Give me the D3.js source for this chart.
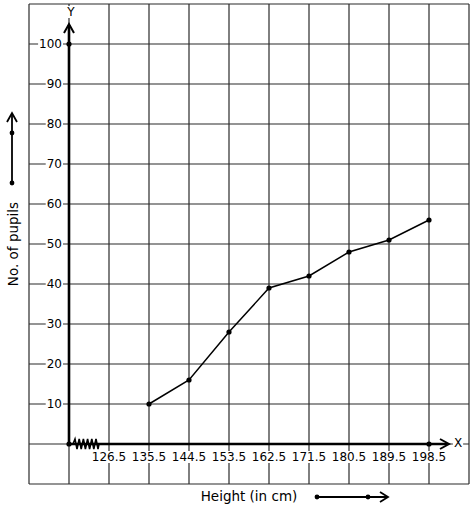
<!DOCTYPE html>
<html>
<head>
<meta charset="utf-8">
<script src="https://cdn.jsdelivr.net/npm/d3@7"></script>
<style>
body{margin:0;background:#fff;}
text{font-family:"DejaVu Sans",sans-serif;font-size:12px;fill:#000;}
text.title{font-size:13.5px;}
</style>
</head>
<body>
<svg id="chart" width="474" height="510"></svg>
<script>
const heights = [135.5, 144.5, 153.5, 162.5, 171.5, 180.5, 189.5, 198.5];
const pupils = [10, 16, 28, 39, 42, 48, 51, 56];
const xTickLabels = ["126.5", "135.5", "144.5", "153.5", "162.5", "171.5", "180.5", "189.5", "198.5"];
const yTickValues = [10, 20, 30, 40, 50, 60, 70, 80, 90, 100];
const xGridValues = d3.range(108.5, 208, 9);
const yGridValues = d3.range(-10, 111, 10);

const svg = d3.select("#chart");
const x = d3.scaleLinear().domain([117.5, 198.5]).range([69, 429]);
const y = d3.scaleLinear().domain([0, 100]).range([444, 44]);

const gridColor = "#2a2a2a";
// grid
svg.append("g").selectAll("line").data(xGridValues).join("line")
  .attr("x1", d => x(d)).attr("x2", d => x(d))
  .attr("y1", y(110)).attr("y2", y(-10))
  .attr("stroke", gridColor).attr("stroke-width", 1.2);
svg.append("g").selectAll("line").data(yGridValues).join("line")
  .attr("x1", x(108.5)).attr("x2", x(207.5))
  .attr("y1", d => y(d)).attr("y2", d => y(d))
  .attr("stroke", gridColor).attr("stroke-width", 1.2);

function labelWithBg(g, txt, px, py, anchor, cls) {
  const t = g.append("text").attr("x", px).attr("y", py)
    .attr("text-anchor", anchor).attr("dominant-baseline", "central").text(txt);
  if (cls) t.attr("class", cls);
  const b = t.node().getBBox();
  g.insert("rect", () => t.node())
    .attr("x", b.x - 1).attr("y", b.y + 1).attr("width", b.width + 2).attr("height", b.height - 2)
    .attr("fill", "#fff");
}

// y tick labels
const yl = svg.append("g");
yTickValues.forEach(v => labelWithBg(yl, String(v), 62, y(v), "end"));

// x tick labels
const xl = svg.append("g");
xTickLabels.forEach(s => labelWithBg(xl, s, x(+s), 457, "middle"));

// axes
const axisW = 2.6;
svg.append("line").attr("x1", x(117.5)).attr("x2", 447).attr("y1", y(0)).attr("y2", y(0))
  .attr("stroke", "#000").attr("stroke-width", axisW);
svg.append("line").attr("x1", x(117.5)).attr("x2", x(117.5)).attr("y1", y(0)).attr("y2", 25)
  .attr("stroke", "#000").attr("stroke-width", axisW);
// arrowheads
svg.append("path").attr("d", "M64,33 L69,24 L74,33").attr("fill", "none").attr("stroke", "#000").attr("stroke-width", 2);
svg.append("path").attr("d", "M440,439 L449,444 L440,449").attr("fill", "none").attr("stroke", "#000").attr("stroke-width", 2);
labelWithBg(svg.append("g"), "Y", 71, 12, "middle");
labelWithBg(svg.append("g"), "X", 458, 443, "middle");

// zigzag (axis break)
let zz = "M73,444";
for (let i = 0; i < 6; i++) {
  const bx = 74 + i * 4.2;
  zz += ` L${bx + 1},439 L${bx + 3},449`;
}
zz += " L99,444";
svg.append("path").attr("d", zz).attr("fill", "none").attr("stroke", "#000").attr("stroke-width", 1.6);

// data line
const line = d3.line().x((d, i) => x(heights[i])).y(d => y(d));
svg.append("path").datum(pupils).attr("d", line).attr("fill", "none").attr("stroke", "#000").attr("stroke-width", 1.5);
svg.append("g").selectAll("circle").data(pupils).join("circle")
  .attr("cx", (d, i) => x(heights[i])).attr("cy", d => y(d)).attr("r", 2.6).attr("fill", "#000");

// axis dots
[[117.5, 0], [117.5, 100], [198.5, 0]].forEach(([a, b]) =>
  svg.append("circle").attr("cx", x(a)).attr("cy", y(b)).attr("r", 2.6).attr("fill", "#000"));

// axis titles
svg.append("text").attr("class", "title").attr("x", 249).attr("y", 496).attr("text-anchor", "middle").attr("dominant-baseline", "central").text("Height (in cm)");
svg.append("text").attr("class", "title").attr("transform", "translate(13,244) rotate(-90)").attr("text-anchor", "middle").attr("dominant-baseline", "central").text("No. of pupils");

// direction arrows
svg.append("line").attr("x1", 317).attr("x2", 387).attr("y1", 497).attr("y2", 497).attr("stroke", "#000").attr("stroke-width", 1.8);
svg.append("path").attr("d", "M380,492 L388,497 L380,502").attr("fill", "none").attr("stroke", "#000").attr("stroke-width", 1.8);
[317, 368].forEach(cx => svg.append("circle").attr("cx", cx).attr("cy", 497).attr("r", 2.4).attr("fill", "#000"));

svg.append("line").attr("x1", 12).attr("x2", 12).attr("y1", 183).attr("y2", 114).attr("stroke", "#000").attr("stroke-width", 1.8);
svg.append("path").attr("d", "M7,122 L12,113 L17,122").attr("fill", "none").attr("stroke", "#000").attr("stroke-width", 1.8);
[183, 133].forEach(cy => svg.append("circle").attr("cx", 12).attr("cy", cy).attr("r", 2.4).attr("fill", "#000"));
</script>
</body>
</html>
